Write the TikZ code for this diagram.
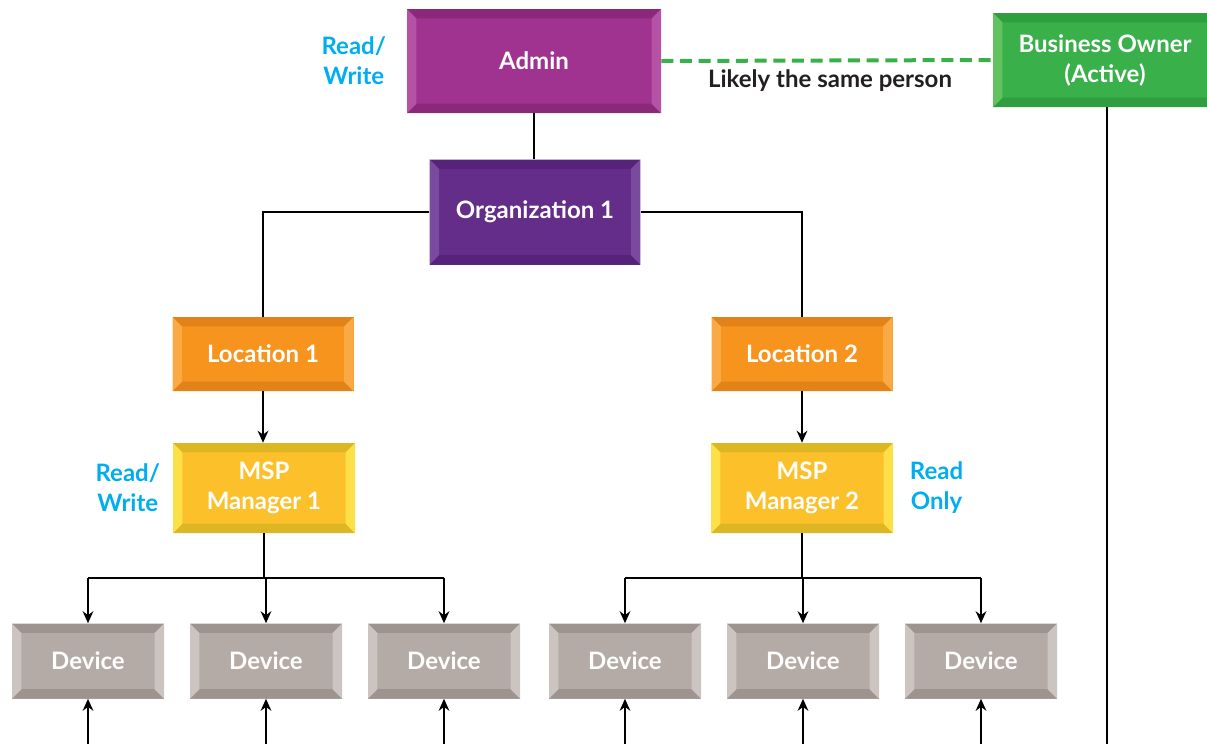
\documentclass[tikz,border=0pt]{standalone}
\usepackage{fontspec}
\setmainfont{Lato}
\usetikzlibrary{positioning,arrows.meta}

\definecolor{adminC}{HTML}{A0338F}
\definecolor{adminD}{HTML}{8A2879}
\definecolor{adminL}{HTML}{B552A5}
\definecolor{orgC}{HTML}{632D89}
\definecolor{orgD}{HTML}{55237A}
\definecolor{orgL}{HTML}{7A4A9E}
\definecolor{locC}{HTML}{F7941E}
\definecolor{locD}{HTML}{E2831A}
\definecolor{locL}{HTML}{FAAA45}
\definecolor{mspC}{HTML}{FBC02A}
\definecolor{mspD}{HTML}{DDB624}
\definecolor{mspL}{HTML}{FDE047}
\definecolor{devC}{HTML}{B4AAA6}
\definecolor{devD}{HTML}{9E948F}
\definecolor{devL}{HTML}{CCC4C1}
\definecolor{ownC}{HTML}{3AB04A}
\definecolor{ownD}{HTML}{2F9E3E}
\definecolor{ownL}{HTML}{62C25F}
\definecolor{accessC}{HTML}{00AEEF}
\definecolor{noteC}{HTML}{231F20}

\newcommand{\bw}{7pt}

\begin{document}
\begin{tikzpicture}[x=0.75pt, y=-0.75pt,
    bevel/.style n args={3}{rectangle, fill=#1, text=white, align=center,
        font=\bfseries\fontsize{18}{22.5}\selectfont, inner sep=0pt,
        path picture={
            \fill[#2] (path picture bounding box.north west) -- (path picture bounding box.north east)
                -- ([shift={(-\bw,-\bw)}]path picture bounding box.north east)
                -- ([shift={(\bw,-\bw)}]path picture bounding box.north west) -- cycle;
            \fill[#2] (path picture bounding box.south west) -- (path picture bounding box.south east)
                -- ([shift={(-\bw,\bw)}]path picture bounding box.south east)
                -- ([shift={(\bw,\bw)}]path picture bounding box.south west) -- cycle;
            \fill[#3] (path picture bounding box.north west) -- ([shift={(\bw,-\bw)}]path picture bounding box.north west)
                -- ([shift={(\bw,\bw)}]path picture bounding box.south west)
                -- (path picture bounding box.south west) -- cycle;
            \fill[#3] (path picture bounding box.north east) -- ([shift={(-\bw,-\bw)}]path picture bounding box.north east)
                -- ([shift={(-\bw,\bw)}]path picture bounding box.south east)
                -- (path picture bounding box.south east) -- cycle;
        }},
    admin/.style={bevel={adminC}{adminD}{adminL}, minimum width=190.5pt, minimum height=78pt},
    owner/.style={bevel={ownC}{ownD}{ownL}, minimum width=168pt, minimum height=70.5pt},
    org/.style={bevel={orgC}{orgD}{orgL}, minimum width=158pt, minimum height=78.75pt},
    loc/.style={bevel={locC}{locD}{locL}, minimum width=135.75pt, minimum height=55.5pt},
    msp/.style={bevel={mspC}{mspD}{mspL}, minimum width=136.5pt, minimum height=67.5pt},
    device/.style={bevel={devC}{devD}{devL}, minimum width=114pt, minimum height=56.25pt},
    access/.style={text=accessC, align=center, font=\bfseries\fontsize{18}{22.5}\selectfont},
    link/.style={line width=1.5pt, black},
    arr/.style={link, -{Stealth[length=9pt,width=8pt]}}
]
\useasboundingbox (0,0) rectangle (1207,744);

% boxes
\node[admin] (admin) at (534,61) {Admin};
\node[owner] (owner) at (1105,60) {Business Owner\\(Active)};
\node[org] (org) at (535,212) {Organization 1};
\node[loc] (loc1) at (263,354) {Location 1};
\node[loc] (loc2) at (802,354) {Location 2};
\node[msp] (msp1) at (264,488) {MSP\\Manager 1};
\node[msp] (msp2) at (802,488) {MSP\\Manager 2};
\foreach \i/\x in {1/88,2/266,3/444,4/625,5/803,6/981}
    \node[device] (dev\i) at (\x,661) {Device};

% access labels
\node[access] (rwAdmin) [left=12pt of admin] {Read/\\Write};
\node[access] (rwMsp) [left=6pt of msp1] {Read/\\Write};
\node[access] (roMsp) [right=9pt of msp2] {Read\\Only};

% owner link
\draw[ownC, line width=3pt, dash pattern=on 9pt off 5pt] (admin.east) -- (owner.west);
\node[text=noteC, font=\bfseries\fontsize{18}{22.5}\selectfont] (same) at (830,81) {Likely the same person};
\coordinate (ownerEnd) at (1107,744);
\draw[link] (owner.south -| ownerEnd) -- (ownerEnd);

% tree
\draw[link] (admin.south) -- (admin.south |- org.north);
\draw[link] (org.west) -| (loc1.north);
\draw[link] (org.east) -| (loc2.north);
\draw[arr] (loc1.south) -- (msp1.north -| loc1.south);
\draw[arr] (loc2.south) -- (msp2.north);

\coordinate (bus1) at (264,578);
\coordinate (bus2) at (802,578);
\draw[link] (msp1.south) -- (bus1);
\draw[link] (msp2.south) -- (bus2);
\foreach \i in {1,2,3}
    \draw[arr] (bus1 -| dev\i.north) -- (dev\i.north);
\foreach \i in {4,5,6}
    \draw[arr] (bus2 -| dev\i.north) -- (dev\i.north);
\draw[link] (bus1 -| dev1.north) -- (bus1 -| dev3.north);
\draw[link] (bus2 -| dev4.north) -- (bus2 -| dev6.north);

% inputs from below
\foreach \i in {1,...,6} {
    \coordinate (in\i) at (dev\i.south |- 0,744);
    \draw[arr] (in\i) -- (dev\i.south);
}
\end{tikzpicture}
\end{document}
